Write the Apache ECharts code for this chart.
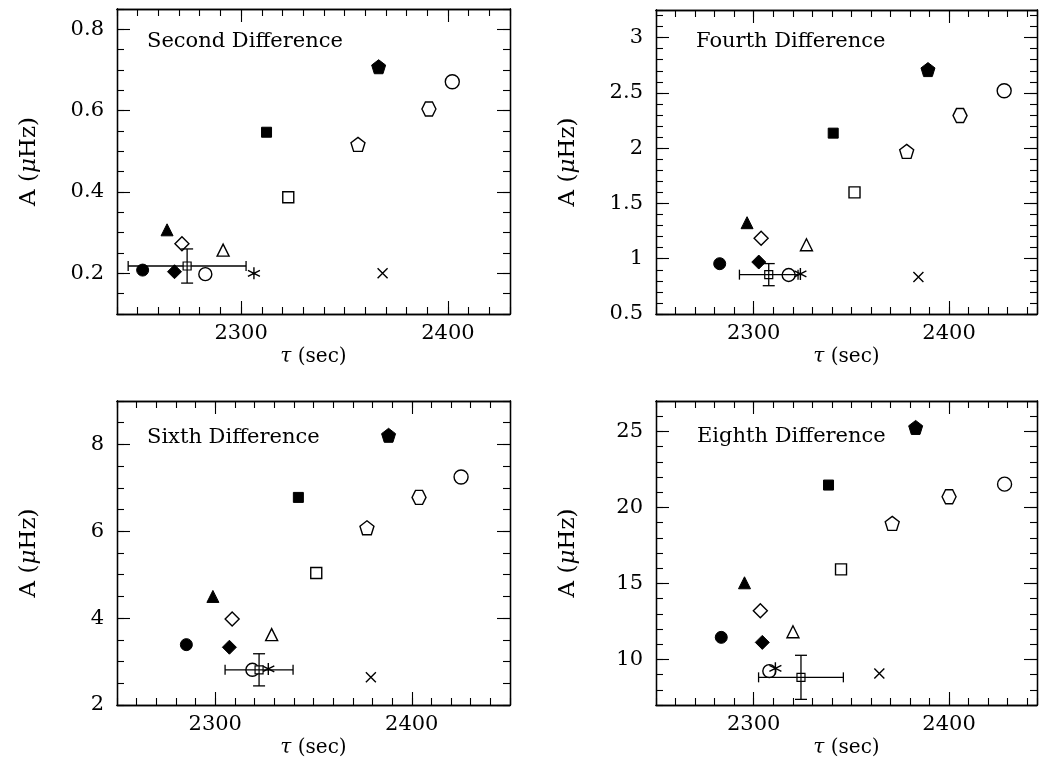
<!DOCTYPE html>
<html lang="en">
<head>
<meta charset="UTF-8">
<title>Difference amplitudes</title>
<script src="https://cdn.jsdelivr.net/npm/echarts@6/dist/echarts.min.js"></script>
<style>
  html, body { margin: 0; padding: 0; background: #fff; }
  #main { width: 1041px; height: 764px; }
</style>
</head>
<body>
<div id="main"></div>
<script>
  // one entry per panel
  var panelNames = ['Second Difference', 'Fourth Difference', 'Sixth Difference', 'Eighth Difference'];

  // marker order used in every tau/amp array below
  var markerNames = ['filled circle', 'filled triangle', 'open diamond', 'filled diamond', 'open circle',
    'open triangle', 'asterisk', 'filled square', 'open square', 'open pentagon', 'filled pentagon',
    'cross', 'open hexagon', 'big open circle'];

  // second difference
  var tau2 = [2252.4, 2264.2, 2271.4, 2267.8, 2282.7, 2291.3, 2306.2, 2312.3, 2322.8, 2356.5, 2366.5, 2368.4, 2390.8, 2402.1];
  var amp2 = [0.208, 0.307, 0.273, 0.204, 0.198, 0.257, 0.200, 0.547, 0.387, 0.517, 0.708, 0.200, 0.604, 0.671];
  // fourth difference
  var tau4 = [2282.6, 2296.6, 2303.8, 2302.6, 2317.9, 2327.0, 2323.9, 2340.7, 2351.6, 2378.3, 2389.2, 2384.3, 2405.6, 2428.2];
  var amp4 = [0.955, 1.326, 1.186, 0.970, 0.853, 1.126, 0.862, 2.136, 1.600, 1.971, 2.711, 0.835, 2.295, 2.520];
  // sixth difference
  var tau6 = [2285.3, 2298.8, 2308.6, 2307.2, 2318.9, 2328.7, 2327.0, 2342.3, 2351.4, 2377.2, 2388.2, 2379.2, 2403.7, 2425.1];
  var amp6 = [3.39, 4.50, 3.98, 3.33, 2.81, 3.62, 2.83, 6.78, 5.04, 6.08, 8.21, 2.64, 6.78, 7.25];
  // eighth difference
  var tau8 = [2283.4, 2295.3, 2303.4, 2304.4, 2308.0, 2320.1, 2311.1, 2338.3, 2344.7, 2370.9, 2382.9, 2364.3, 2400.0, 2428.4];
  var amp8 = [11.45, 15.04, 13.20, 11.12, 9.23, 11.82, 9.41, 21.47, 15.92, 18.95, 25.26, 9.08, 20.70, 21.53];

  // point with error bars: [tau, A, tau error, A error]
  var err2 = [2273.9, 0.218, 28.5, 0.042];
  var err4 = [2307.7, 0.856, 15.0, 0.10];
  var err6 = [2322.3, 2.81, 17.3, 0.37];
  var err8 = [2324.2, 8.82, 21.7, 1.45];

  // labelled ticks
  var xTicks = [2300, 2400];
  var yTicks2 = [0.2, 0.4, 0.6, 0.8];
  var yTicks4 = [0.5, 1, 1.5, 2, 2.5, 3];
  var yTicks6 = [2, 4, 6, 8];
  var yTicks8 = [10, 15, 20, 25];

  var FONT = 'DejaVu Serif';

  var panels = [
    {name: panelNames[0], tau: tau2, amp: amp2, err: err2, yTicks: yTicks2,
      grid: {left: 117, top: 9, width: 393, height: 305}, x: [2240, 2430], y: [0.1, 0.85], yStep: 0.05, text: [147, 31]},
    {name: panelNames[1], tau: tau4, amp: amp4, err: err4, yTicks: yTicks4,
      grid: {left: 656, top: 10, width: 381, height: 304}, x: [2250, 2445], y: [0.5, 3.25], yStep: 0.1, text: [696, 31]},
    {name: panelNames[2], tau: tau6, amp: amp6, err: err6, yTicks: yTicks6,
      grid: {left: 117, top: 401, width: 393, height: 304}, x: [2250, 2450], y: [2, 9], yStep: 0.5, text: [147, 427]},
    {name: panelNames[3], tau: tau8, amp: amp8, err: err8, yTicks: yTicks8,
      grid: {left: 656, top: 401, width: 381, height: 304}, x: [2250, 2445], y: [7, 27], yStep: 1, text: [697, 426]}
  ];

  // symbol look for each marker name
  var PENTAGON = 'path://M0,-1L0.951,-0.309L0.588,0.809L-0.588,0.809L-0.951,-0.309Z';
  var HEXAGON = 'path://M1,0L0.5,0.866L-0.5,0.866L-1,0L-0.5,-0.866L0.5,-0.866Z';
  var markerStyle = {
    'filled circle': {symbol: 'circle', size: 12, filled: true},
    'filled triangle': {symbol: 'triangle', size: 12, filled: true},
    'open diamond': {symbol: 'diamond', size: 14, filled: false},
    'filled diamond': {symbol: 'diamond', size: 14, filled: true},
    'open circle': {symbol: 'circle', size: 13, filled: false},
    'open triangle': {symbol: 'triangle', size: 12, filled: false},
    'asterisk': {symbol: 'path://M0,-1L0,1M-0.866,-0.5L0.866,0.5M-0.866,0.5L0.866,-0.5', size: 12, filled: false},
    'filled square': {symbol: 'rect', size: 10, filled: true},
    'open square': {symbol: 'rect', size: 11, filled: false},
    'open pentagon': {symbol: PENTAGON, size: 14, filled: false},
    'filled pentagon': {symbol: PENTAGON, size: 14, filled: true},
    'cross': {symbol: 'path://M-1,-1L1,1M-1,1L1,-1', size: 10, filled: false},
    'open hexagon': {symbol: HEXAGON, size: 14, filled: false},
    'big open circle': {symbol: 'circle', size: 14, filled: false}
  };

  var axisLine = {show: true, lineStyle: {color: '#000', width: 1.3}};
  var tickLine = {color: '#000', width: 1.1};
  var labelFont = {fontFamily: FONT, fontSize: 21, color: '#000'};
  function nameFont(size) {
    return {
      fontFamily: FONT, fontSize: size, color: '#000',
      rich: {
        n: {fontFamily: FONT, fontSize: size, color: '#000'},
        i: {fontFamily: FONT, fontSize: size, color: '#000', fontStyle: 'italic'}
      }
    };
  }

  function ext(a, b) {
    return Object.assign({}, a, b);
  }

  var grids = [], xAxes = [], yAxes = [], series = [], texts = [];

  panels.forEach(function (p, g) {
    grids.push(ext(p.grid, {containLabel: false}));

    var xb = {gridIndex: g, type: 'value', min: p.x[0], max: p.x[1], axisLine: axisLine,
      splitLine: {show: false}, axisLabel: {show: false}, silent: true};
    xAxes.push(ext(xb, {position: 'bottom', interval: 10,
      axisTick: {inside: true, length: 7, lineStyle: tickLine},
      axisLabel: ext(labelFont, {show: true, customValues: xTicks, margin: 9,
        formatter: function (v) { return String(v); }}),
      name: '{i|τ}{n| (sec)}', nameLocation: 'middle', nameGap: 33, nameTextStyle: nameFont(20)}));
    xAxes.push(ext(xb, {position: 'bottom', axisTick: {inside: true, length: 13, lineStyle: tickLine, customValues: xTicks}}));
    xAxes.push(ext(xb, {position: 'top', interval: 10, axisTick: {inside: true, length: 7, lineStyle: tickLine}}));
    xAxes.push(ext(xb, {position: 'top', axisTick: {inside: true, length: 13, lineStyle: tickLine, customValues: xTicks}}));

    var yb = {gridIndex: g, type: 'value', min: p.y[0], max: p.y[1], axisLine: axisLine,
      splitLine: {show: false}, axisLabel: {show: false}, silent: true};
    yAxes.push(ext(yb, {position: 'left', interval: p.yStep,
      axisTick: {inside: true, length: 7, lineStyle: tickLine},
      axisLabel: ext(labelFont, {show: true, customValues: p.yTicks, margin: 13}),
      name: '{n|A (}{i|μ}{n|Hz)}', nameLocation: 'middle', nameRotate: 90, nameGap: 76, nameTextStyle: nameFont(23)}));
    yAxes.push(ext(yb, {position: 'left', axisTick: {inside: true, length: 13, lineStyle: tickLine, customValues: p.yTicks}}));
    yAxes.push(ext(yb, {position: 'right', interval: p.yStep, axisTick: {inside: true, length: 7, lineStyle: tickLine}}));
    yAxes.push(ext(yb, {position: 'right', axisTick: {inside: true, length: 13, lineStyle: tickLine, customValues: p.yTicks}}));

    var points = markerNames.map(function (m, k) {
      var st = markerStyle[m];
      return {
        value: [p.tau[k], p.amp[k]],
        symbol: st.symbol,
        symbolSize: st.size,
        itemStyle: st.filled
          ? {color: '#000', borderColor: '#000', borderWidth: 1, opacity: 1}
          : {color: 'rgba(0,0,0,0)', borderColor: '#000', borderWidth: 1.4, opacity: 1}
      };
    });

    series.push({
      type: 'scatter', xAxisIndex: 4 * g, yAxisIndex: 4 * g,
      data: points, silent: true, z: 3
    });

    // error bars with end caps
    series.push({
      type: 'custom', xAxisIndex: 4 * g, yAxisIndex: 4 * g,
      data: [p.err], encode: {x: 0, y: 1}, silent: true, z: 2,
      renderItem: function (params, api) {
        var x = api.value(0), y = api.value(1), ex = api.value(2), ey = api.value(3);
        var l = api.coord([x - ex, y]), r = api.coord([x + ex, y]);
        var t = api.coord([x, y + ey]), b = api.coord([x, y - ey]);
        var s = {stroke: '#000', lineWidth: 1.3};
        function seg(x1, y1, x2, y2) {
          return {type: 'line', shape: {x1: x1, y1: y1, x2: x2, y2: y2}, style: s};
        }
        return {
          type: 'group',
          children: [
            seg(l[0], l[1], r[0], r[1]),
            seg(l[0], l[1] - 5, l[0], l[1] + 5),
            seg(r[0], r[1] - 5, r[0], r[1] + 5),
            seg(t[0], t[1], b[0], b[1]),
            seg(t[0] - 6, t[1], t[0] + 6, t[1]),
            seg(b[0] - 6, b[1], b[0] + 6, b[1])
          ]
        };
      }
    });

    // the boxed cross sitting on the error-bar point
    series.push({
      type: 'scatter', xAxisIndex: 4 * g, yAxisIndex: 4 * g, silent: true, z: 4,
      data: [[p.err[0], p.err[1]]],
      symbol: 'path://M-1,-1L1,-1L1,1L-1,1ZM0,-1L0,1M-1,0L1,0', symbolSize: 8,
      itemStyle: {color: '#fff', borderColor: '#000', borderWidth: 1.2, opacity: 1}
    });

    texts.push({
      type: 'text', left: p.text[0], top: p.text[1], silent: true,
      style: {text: p.name, font: '21px "' + FONT + '"', fill: '#000'}
    });
  });

  var chart = echarts.init(document.getElementById('main'));
  chart.setOption({
    animation: false,
    backgroundColor: '#fff',
    grid: grids,
    xAxis: xAxes,
    yAxis: yAxes,
    series: series,
    graphic: texts
  });
</script>
</body>
</html>
